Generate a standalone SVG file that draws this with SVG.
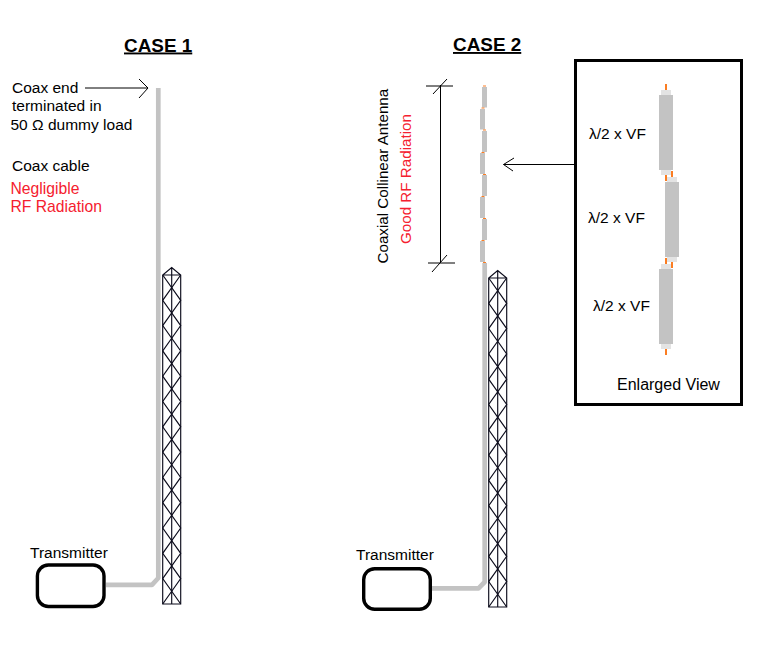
<svg xmlns="http://www.w3.org/2000/svg" width="771" height="672" viewBox="0 0 771 672">
<style>
text{font-family:"Liberation Sans",Arial,sans-serif;font-size:15.5px;fill:#000}
.red{fill:#f5202e;font-size:15.7px}
.big{font-size:16px}
.rot{font-size:15.2px}
.title{font-weight:bold;font-size:18.9px;text-decoration:underline}
.ln{fill:none;stroke:#000;stroke-width:1}
.coax{fill:none;stroke:#c3c3c3;stroke-width:4.7;stroke-linejoin:round}
.seg{fill:#c3c3c3}
.cap{fill:#e3e3e3}
.or{fill:#fb7d22}
.tw{fill:none;stroke:#0c0c1c;stroke-width:1.15}
.tx{fill:#fff;stroke:#000;stroke-width:3.4}
</style>
<defs>
<g id="tower" class="tw">
<path d="M162.700 275V604H180.700V275L171.700 267.500ZM162.700 275H180.700M171.700 267.500V604"/>
<path d="M162.700 275L180.700 300.300L162.700 325.600L180.700 350.900L162.700 376.200L180.700 401.500L162.700 426.800L180.700 452.100L162.700 477.400L180.700 502.700L162.700 528L180.700 553.300L162.700 578.600L180.700 604"/>
<path d="M180.700 275L162.700 300.300L180.700 325.600L162.700 350.900L180.700 376.200L162.700 401.500L180.700 426.800L162.700 452.100L180.700 477.400L162.700 502.700L180.700 528L162.700 553.300L180.700 578.600L162.700 604"/>
</g>
<g id="dipole">
<rect class="or" x="6" y="0" width="2" height="6"/>
<rect class="cap" x="2" y="6" width="10" height="5"/>
<rect class="seg" x="0" y="11" width="14" height="75"/>
<rect class="cap" x="2" y="86" width="10" height="5"/>
<rect class="or" x="6" y="91" width="2" height="6"/>
</g>
</defs>

<g id="case1">
<text class="title" x="124" y="51.500">CASE 1</text>
<text x="12" y="93">Coax end</text>
<text x="12" y="111">terminated in</text>
<text x="10.500" y="130">50 Ω dummy load</text>
<text x="12" y="171">Coax cable</text>
<text class="red" x="10.500" y="194">Negligible</text>
<text class="red" x="10.500" y="212">RF Radiation</text>
</g>
<g id="case2-labels">
<text class="title" x="453" y="51">CASE 2</text>
<text class="rot" transform="translate(387.500,263.500) rotate(-90)">Coaxial Collinear Antenna</text>
<text class="rot red" style="font-size:15.2px" transform="translate(411,244) rotate(-90)">Good RF Radiation</text>
</g>

<g id="connectors">
<path class="coax" d="M158.300 88V578L152 584.800H106"/>
<path class="coax" d="M484.700 263V582L478.500 588.300H432"/>
<path class="ln" d="M85 88H148M139 79L148 88L139 98"/>
<path class="ln" d="M575 164.500H503.500M514 158L503.500 164.500L513 171"/>
<path class="ln" d="M440.500 85V263M426 86H453M428 263H455M433 94L447 79M432 272L447 255"/>
</g>

<g id="tower1"><use href="#tower"/></g>
<g id="tower2"><use href="#tower" x="326" y="3"/></g>

<g id="collinear">
<rect class="seg" x="482" y="87" width="5" height="20.500"/>
<rect class="seg" x="480" y="109" width="5" height="20.500"/>
<rect class="seg" x="482" y="131" width="5" height="21"/>
<rect class="seg" x="480" y="153" width="5" height="21"/>
<rect class="seg" x="482" y="175" width="5" height="21"/>
<rect class="seg" x="480" y="197" width="5" height="21"/>
<rect class="seg" x="482" y="219" width="5" height="21"/>
<rect class="seg" x="480" y="241" width="5" height="21"/>
<path d="M483 86H486M481.500 108H484.500M483 130H486M481.500 152.500H484.500M483 174.500H486M481.500 196.500H484.500M483 218.500H486M481.500 240.500H484.500M483 262.500H486" fill="none" stroke="#fb7d22"/>
</g>

<g id="transmitter1"><rect class="tx" x="37.400" y="565" width="66.600" height="41.500" rx="11"/><text x="30" y="557.500">Transmitter</text></g>
<g id="transmitter2"><rect class="tx" x="363.700" y="568.700" width="66.600" height="40.500" rx="11"/><text x="356" y="560">Transmitter</text></g>

<g id="enlarged">
<rect x="575.500" y="60.500" width="166" height="344" fill="#fff" stroke="#000" stroke-width="3"/>
<use href="#dipole" x="659" y="84"/>
<use href="#dipole" x="665" y="171"/>
<use href="#dipole" x="659" y="258"/>
<text x="589" y="139">λ/2 x VF</text>
<text x="588" y="223">λ/2 x VF</text>
<text x="593" y="311">λ/2 x VF</text>
<text class="big" x="617" y="390">Enlarged View</text>
</g>
</svg>
